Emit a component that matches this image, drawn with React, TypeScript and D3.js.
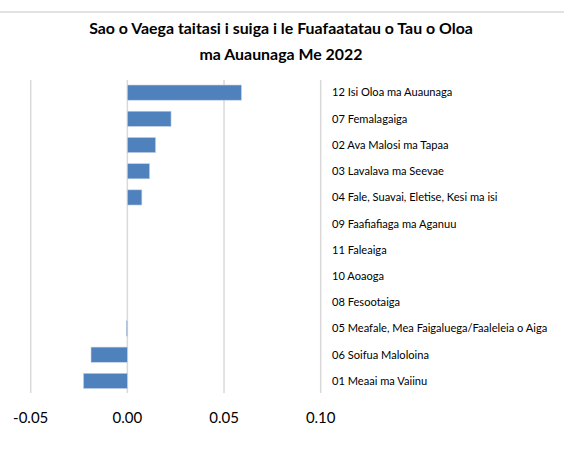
import React from "react";
import * as d3 from "d3";

const categories = [
  "12 Isi Oloa ma Auaunaga",
  "07 Femalagaiga",
  "02 Ava Malosi ma Tapaa",
  "03 Lavalava ma Seevae",
  "04 Fale, Suavai, Eletise, Kesi ma isi",
  "09 Faafiafiaga ma Aganuu",
  "11 Faleaiga",
  "10 Aoaoga",
  "08 Fesootaiga",
  "05 Meafale, Mea Faigaluega/Faaleleia o Aiga",
  "06 Soifua Maloloina",
  "01 Meaai ma Vaiinu",
];
const values = [0.059, 0.0226, 0.0146, 0.0115, 0.0075, 0, 0, 0, 0, -0.0005, -0.0188, -0.0227];
const ticks = [-0.05, 0, 0.05, 0.1];
const titleLines = [
  "Sao o Vaega taitasi i suiga i le Fuafaatatau o Tau o Oloa",
  "ma Auaunaga  Me 2022",
];

export default function App() {
  const W = 564;
  const H = 464;
  const x = d3.scaleLinear().domain([-0.05, 0.1]).range([30.7, 320.7]);
  const y = d3.scaleBand<string>().domain(categories).range([79.5, 394]).paddingInner(0.42).paddingOuter(0.21);
  const font = "Lato, 'Open Sans', sans-serif";
  const fmt = (t: number) => d3.format(".2f")(t).replace("\u2212", "-");
  return (
    <svg width={W} height={H} style={{ position: "absolute", left: 0, top: 0, background: "#fff" }}>
      <line x1={0} x2={W} y1={12} y2={12} stroke="#d9d9d9" strokeWidth={1.5} />
      {titleLines.map((t, i) => (
        <text key={i} x={281} y={34 + i * 26} textAnchor="middle" fontFamily={font} fontWeight="bold" fontSize={15.9} fill="#000">
          {t}
        </text>
      ))}
      {ticks.map((t) => (
        <g key={t}>
          <line x1={x(t)} x2={x(t)} y1={80} y2={393} stroke="#d9d9d9" strokeWidth={1.5} />
          <text x={x(t)} y={423} textAnchor="middle" fontFamily={font} fontSize={15} fill="#000">
            {fmt(t)}
          </text>
        </g>
      ))}
      {categories.map((c, i) => {
        const v = values[i];
        const y0 = y(c)!;
        return (
          <g key={c}>
            {v !== 0 && (
              <rect
                x={Math.min(x(0), x(v))}
                y={y0}
                width={Math.abs(x(v) - x(0))}
                height={y.bandwidth()}
                fill="#4f81bd"
                stroke="#c6d4e8"
                strokeWidth={0.6}
              />
            )}
            <text x={332} y={y0 + y.bandwidth() / 2} dy="0.35em" fontFamily={font} fontSize={11.1} fill="#000">
              {c}
            </text>
          </g>
        );
      })}
    </svg>
  );
}
